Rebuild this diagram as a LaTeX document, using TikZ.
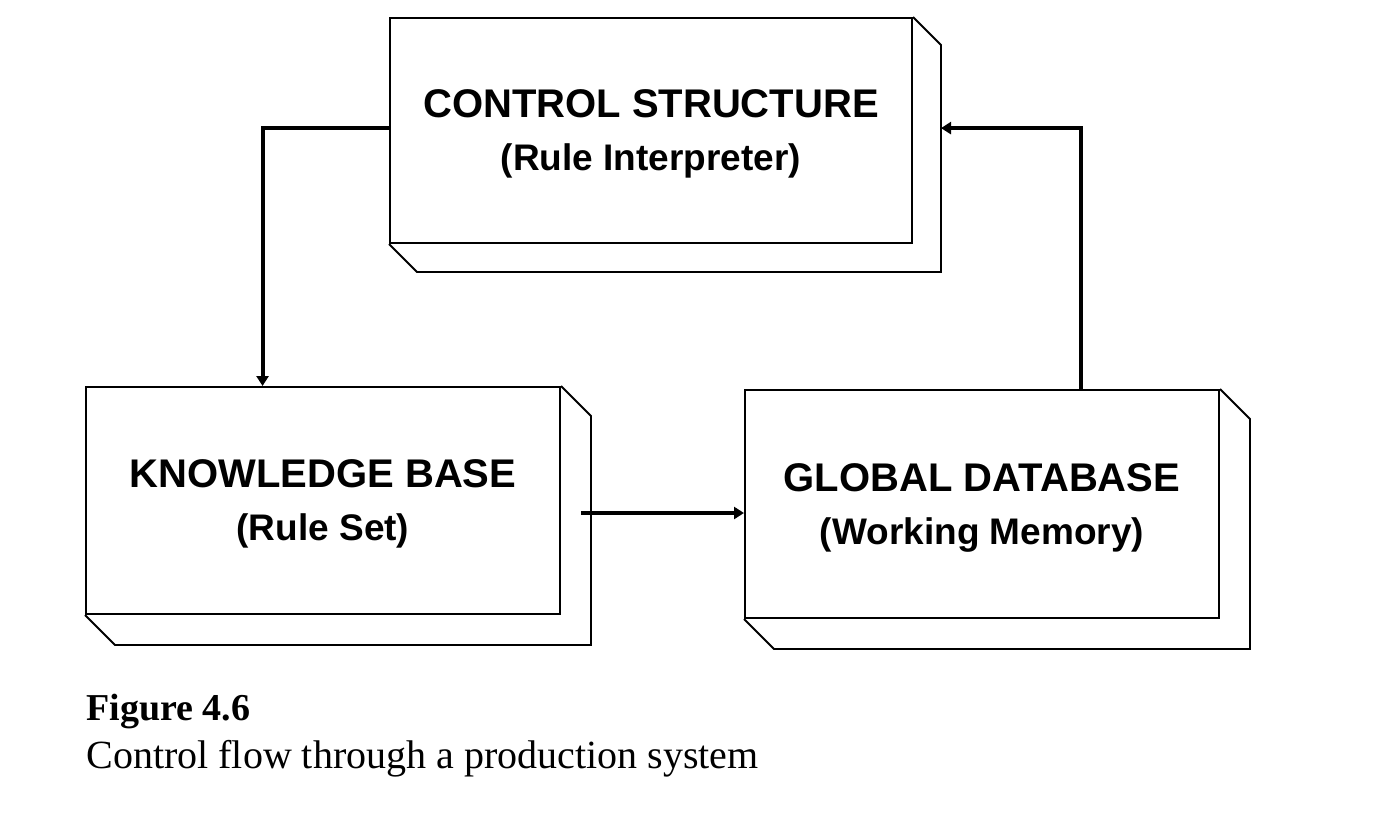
\documentclass[tikz,border=0pt]{standalone}
\usepackage{fontspec}
\setsansfont{Liberation Sans}
\setmainfont{Liberation Serif}
\usepackage{tikz}
\usetikzlibrary{arrows.meta,calc}

\tikzset{
  unit/.style={draw, line width=1pt, align=center, text depth=0pt,
    font=\sffamily\bfseries\fontsize{20}{24}\selectfont,
    minimum width=237pt, minimum height=113.5pt, inner sep=0pt},
  flow/.style={line width=2pt, -{Triangle[length=5pt,width=6pt]}},
  back/.style={line width=0.9pt}
}
% depth of a box, drawn to the lower right
\newcommand\boxdepth[2]{
  \draw[back] (#1.north east) -- ([shift={(#2,-#2)}]#1.north east)
    -- ([shift={(#2,-#2)}]#1.south east) -- ([shift={(#2,-#2)}]#1.south west)
    -- (#1.south west);}
\newcommand\subline[1]{{\fontsize{18.5}{24}\selectfont #1}}

\begin{document}
\begin{tikzpicture}[x=0.5pt, y=-0.5pt]
      \useasboundingbox (0,0) rectangle (1375,813);
      %Boxes
      \node[unit, minimum width=261pt, minimum height=112.5pt] (ctrl) at (651,130.5)
        {CONTROL STRUCTURE\\[2.5pt] \subline{(Rule Interpreter)}};
      \node[unit] (kb) at (323,500.5)
        {KNOWLEDGE BASE\\[2.5pt] \subline{(Rule Set)}};
      \node[unit, minimum height=114pt] (gd) at (982,504)
        {GLOBAL DATABASE\\[2.5pt] \subline{(Working Memory)}};
      \boxdepth{ctrl}{14pt}
      \boxdepth{kb}{15pt}
      \boxdepth{gd}{15pt}
      %Control flow
      \draw[flow] ([yshift=1.2pt]ctrl.west) -| ($(kb.north west)!0.373!(kb.north east)$);
      \draw[flow] ([xshift=10pt,yshift=-6.25pt]kb.east) -- ([yshift=-4.5pt]gd.west);
      \draw[flow] ($(gd.north west)!0.707!(gd.north east)$) |- ([xshift=14pt,yshift=1.2pt]ctrl.east);
      %Caption
      \node[anchor=base west, inner sep=0pt, font=\fontsize{19}{24}\selectfont\bfseries] (fig) at (86,720) {Figure 4.6};
      \node[anchor=base west, inner sep=0pt, font=\fontsize{20}{24}\selectfont] (cap) at (86,768) {Control flow through a production system};
\end{tikzpicture}
\end{document}
